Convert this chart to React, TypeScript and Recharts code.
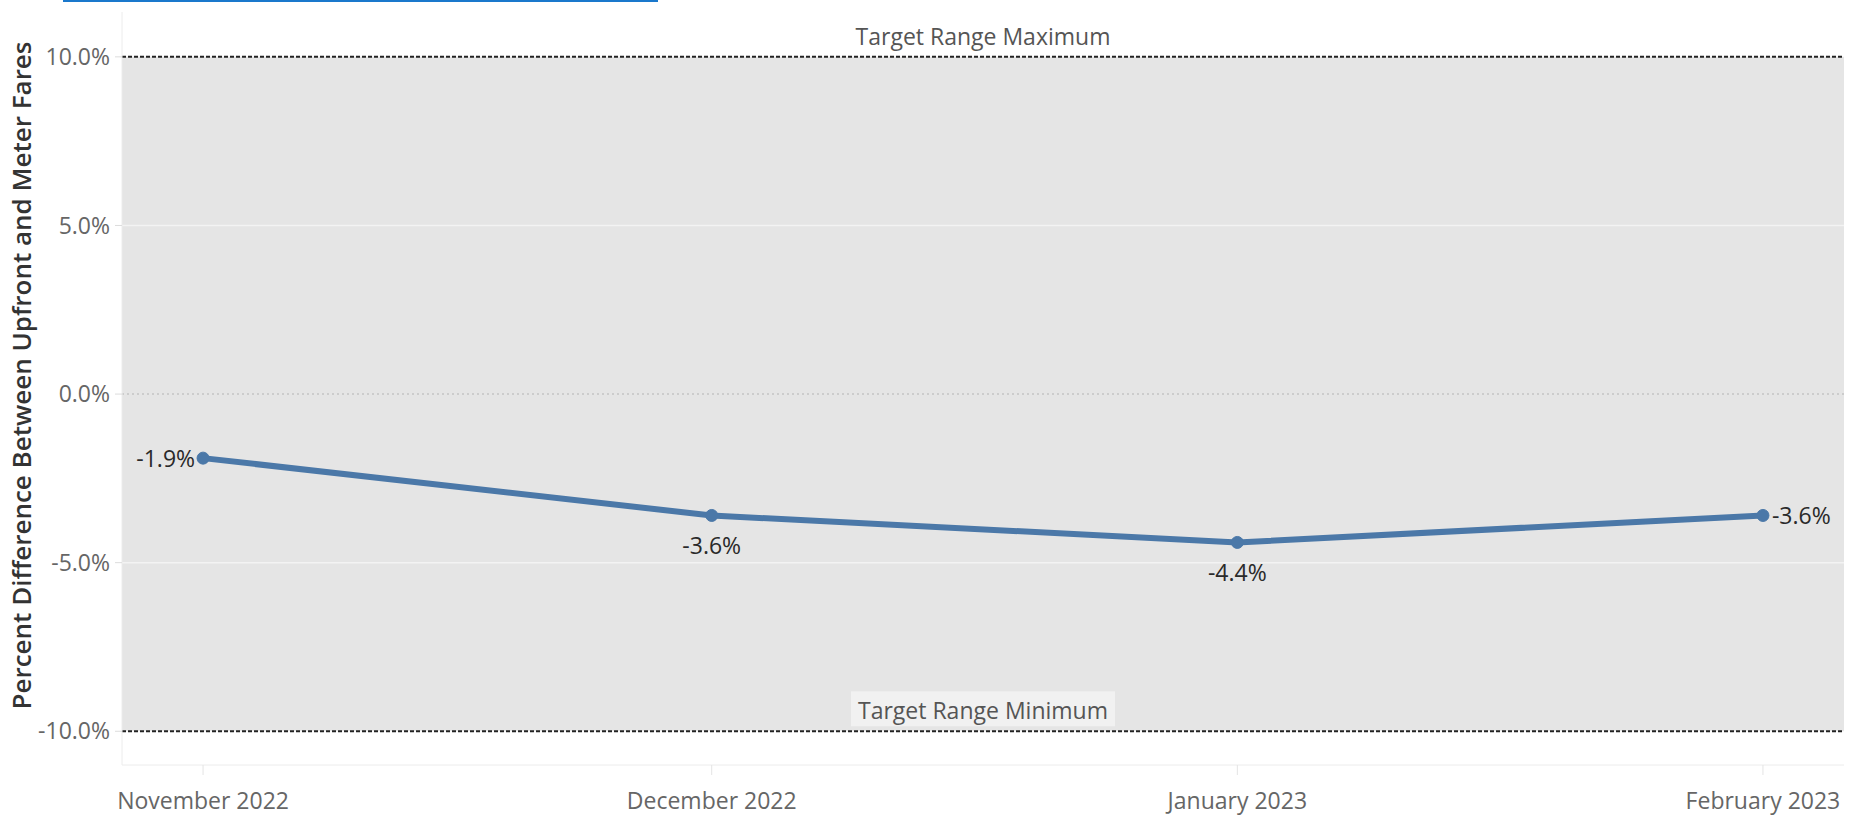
import React from 'react';
import {
  LineChart,
  Line,
  XAxis,
  YAxis,
  ReferenceArea,
  ReferenceLine,
  LabelList,
} from 'recharts';

const MONTHS = ['November 2022', 'December 2022', 'January 2023', 'February 2023'];
const MONTH_START = ['2022-11-01', '2022-12-01', '2023-01-01', '2023-02-01'];
const PCT_DIFF = [-1.9, -3.6, -4.4, -3.6];
const Y_TICKS = [-10, -5, 0, 5, 10];
const TARGET_MAX = 10;
const TARGET_MIN = -10;

const FONT = '"Open Sans", sans-serif';
const BLUE = '#4b78a8';
const DAY = 86400000;

const toDay = (s: string) => Date.parse(s + 'T00:00:00Z') / DAY;

const days = MONTH_START.map(toDay);
const data = days.map((d, i) => ({ day: d, v: PCT_DIFF[i] }));
const monthByDay: Record<number, string> = {};
days.forEach((d, i) => (monthByDay[d] = MONTHS[i]));

const pad = 4.78;
const xDomain = [days[0] - pad, days[days.length - 1] + pad];

function TargetLabel(props: any) {
  const { viewBox, text } = props;
  const cx = viewBox.x + viewBox.width / 2;
  const y = viewBox.y;
  return (
    <g>
      <rect x={cx - 132} y={y - 40} width={264} height={35} fill="#fff" fillOpacity={0.45} />
      <text
        x={cx}
        y={y - 12}
        textAnchor="middle"
        fontFamily={FONT}
        fontSize={23}
        fill="#555"
      >
        {text}
      </text>
    </g>
  );
}

function PointLabel(props: any) {
  const { x, y, value, index } = props;
  const txt = `${Number(value).toFixed(1)}%`;
  let tx = x;
  let ty = y + 39;
  let anchor = 'middle';
  let base = 'auto';
  if (index === 0) {
    tx = x - 8;
    ty = y;
    anchor = 'end';
    base = 'central';
  } else if (index === PCT_DIFF.length - 1) {
    tx = x + 9;
    ty = y;
    anchor = 'start';
    base = 'central';
  }
  return (
    <text
      x={tx}
      y={ty}
      textAnchor={anchor}
      dominantBaseline={base}
      fontFamily={FONT}
      fontSize={23}
      fill="#2a2a2a"
    >
      {txt}
    </text>
  );
}

function AxisTitle(props: any) {
  const { viewBox } = props;
  const cx = viewBox.x + 21;
  const cy = viewBox.y + viewBox.height / 2 - 13;
  return (
    <text
      x={cx}
      y={cy}
      transform={`rotate(-90, ${cx}, ${cy})`}
      textAnchor="middle"
      dominantBaseline="central"
      fontFamily={FONT}
      fontSize={26}
      fontWeight={600}
      fill="#333"
    >
      Percent Difference Between Upfront and Meter Fares
    </text>
  );
}

export default function App() {
  return (
    <div style={{ position: 'absolute', left: 0, top: 0, width: 1853, height: 817, background: '#fff' }}>
      <div style={{ position: 'absolute', left: 63, top: 0, width: 595, height: 2, background: '#1a78cc' }} />
      <LineChart
        width={1853}
        height={817}
        data={data}
        margin={{ top: 12, right: 9, bottom: 0, left: 0 }}
      >
        <XAxis
          dataKey="day"
          type="number"
          domain={xDomain}
          ticks={days}
          tickFormatter={(d: number) => monthByDay[d] ?? ''}
          height={52}
          axisLine={{ stroke: '#ececec' }}
          tickLine={{ stroke: '#e4e4e4' }}
          tickSize={10}
          tickMargin={18}
          tick={{ fontFamily: FONT, fontSize: 23, fill: '#666' }}
          interval={0}
        />
        <YAxis
          type="number"
          domain={[-11, 11.33]}
          ticks={Y_TICKS}
          width={122}
          tickFormatter={(v: number) => `${v.toFixed(1)}%`}
          axisLine={{ stroke: '#ececec' }}
          tickLine={{ stroke: '#dcdcdc' }}
          tickSize={7}
          tickMargin={5}
          tick={{ fontFamily: FONT, fontSize: 23, fill: '#666' }}
          label={<AxisTitle />}
        />
        <ReferenceArea
          y1={TARGET_MIN}
          y2={TARGET_MAX}
          fill="#e5e5e5"
          fillOpacity={1}
          stroke="none"
        />
        <ReferenceLine y={5} stroke="#f3f3f3" strokeWidth={1.5} />
        <ReferenceLine y={-5} stroke="#f3f3f3" strokeWidth={1.5} />
        <ReferenceLine y={0} stroke="#c4c4c4" strokeWidth={1.5} strokeDasharray="2 3" />
        <ReferenceLine
          y={TARGET_MAX}
          stroke="#222"
          strokeWidth={2}
          strokeDasharray="4 2"
          label={<TargetLabel text="Target Range Maximum" />}
        />
        <ReferenceLine
          y={TARGET_MIN}
          stroke="#222"
          strokeWidth={2}
          strokeDasharray="4 2"
          label={<TargetLabel text="Target Range Minimum" />}
        />
        <Line
          dataKey="v"
          stroke={BLUE}
          strokeWidth={6}
          dot={{ r: 6, fill: BLUE, stroke: BLUE, strokeWidth: 1 }}
          isAnimationActive={false}
        >
          <LabelList dataKey="v" content={<PointLabel />} />
        </Line>
      </LineChart>
    </div>
  );
}
